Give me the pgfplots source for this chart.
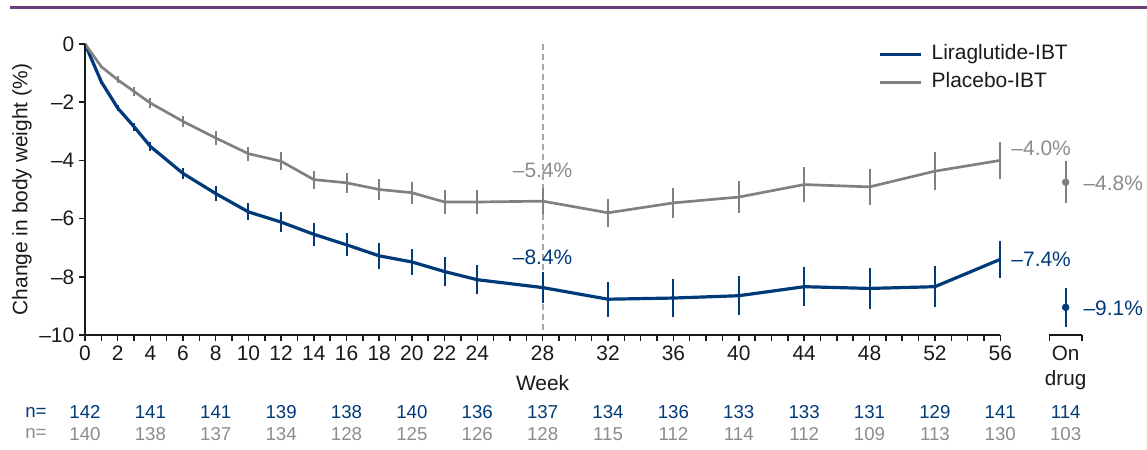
\documentclass[border=0pt]{standalone}
\usepackage{fontspec}
\setmainfont{Liberation Sans}
\usepackage{pgfplots}
\usepackage{pgfplotstable}
\pgfplotsset{compat=1.18}
\usetikzlibrary{calc}

\definecolor{liraBlue}{HTML}{003A78}
\definecolor{placGray}{HTML}{808080}
\definecolor{annGray}{HTML}{8C8C8C}
\definecolor{topPurple}{HTML}{6B3F7D}
\definecolor{dashGray}{HTML}{A6A6A6}
\definecolor{axisBlack}{HTML}{1A1A1A}

\newcommand{\bigfont}{\fontsize{15.7}{18.8}\selectfont}
\newcommand{\tickfont}{\fontsize{15.7}{18.8}\selectfont}
\newcommand{\nfont}{\fontsize{14}{16.8}\selectfont}

% week, mean change (%), error
\pgfplotstableread{
x  y      e
0  0      0
1  -1.30  0.06
2  -2.20  0.11
3  -2.84  0.14
4  -3.52  0.16
6  -4.45  0.20
8  -5.14  0.26
10 -5.77  0.29
12 -6.12  0.34
14 -6.54  0.39
16 -6.90  0.40
18 -7.28  0.45
20 -7.49  0.46
22 -7.82  0.50
24 -8.10  0.50
28 -8.37  0.54
32 -8.77  0.60
36 -8.73  0.64
40 -8.65  0.67
44 -8.34  0.67
48 -8.40  0.70
52 -8.34  0.70
56 -7.40  0.64
}\liratable

\pgfplotstableread{
x  y      e
0  0      0
1  -0.78  0.05
2  -1.23  0.12
3  -1.63  0.14
4  -2.03  0.17
6  -2.66  0.19
8  -3.23  0.23
10 -3.77  0.24
12 -4.03  0.31
14 -4.66  0.31
16 -4.77  0.34
18 -5.00  0.35
20 -5.11  0.38
22 -5.43  0.42
24 -5.43  0.42
28 -5.40  0.45
32 -5.80  0.49
36 -5.46  0.51
40 -5.26  0.54
44 -4.83  0.59
48 -4.91  0.62
52 -4.37  0.65
56 -4.00  0.64
}\plactable

% number of patients per visit
\pgfplotstableread{
x  lira plac
0  142  140
4  141  138
8  141  137
12 139  134
16 138  128
20 140  125
24 136  126
28 137  128
32 134  115
36 136  112
40 133  114
44 133  112
48 131  109
52 129  113
56 141  130
60 114  103
}\ntable

\begin{document}
\begin{tikzpicture}
\begin{axis}[
  scale only axis,
  width=747.75pt, height=218.25pt,
  xmin=0, xmax=61, ymin=-10, ymax=0,
  clip=false,
  axis lines*=left,
  axis line style={draw=none},
  xtick={0,2,4,6,8,10,12,14,16,18,20,22,24,28,32,36,40,44,48,52,56},
  minor xtick={0,1,...,56,59,61},
  extra x ticks={60},
  extra x tick labels={On\\drug},
  extra x tick style={tick style={draw=none},
    tick label style={align=center, font=\fontsize{15.5}{18.75}\selectfont}},
  ytick={-10,-8,-6,-4,-2,0},
  yticklabels={\textendash10,\textendash8,\textendash6,\textendash4,\textendash2,0},
  tick align=outside,
  major tick length=4.5pt, minor tick length=4.5pt,
  every tick/.style={line width=1.1pt, color=axisBlack},
  tick label style={font=\tickfont, text=axisBlack},
  /pgf/number format/assume math mode=true,
  xlabel={Week},
  every axis x label/.style={at={(rel axis cs:0.459,-0.165)}, anchor=center,
    font=\bigfont, text=axisBlack},
  ylabel={Change in body weight (\%)},
  every axis y label/.style={at={(rel axis cs:-0.0633,0.5)}, rotate=90,
    anchor=center, font=\bigfont, text=axisBlack},
  legend style={at={(axis cs:48.55,0.08)}, anchor=north west, draw=none,
    fill=none, inner sep=0pt, row sep=2pt, column sep=4.5pt,
    nodes={inner sep=2pt, text height=11.5pt, text depth=3.5pt,
      font=\bigfont, text=axisBlack}},
  legend cell align=left,
  legend image code/.code={\draw[#1] (0pt,0pt) -- (30.75pt,0pt);},
]
\coordinate (bbSW) at ($(rel axis cs:0,0)+(-63.75pt,-86.25pt)$);

% week 28 reference line
\addplot[dashGray, line width=1.4pt, dash pattern=on 4.5pt off 3pt, forget plot]
  coordinates {(28,0) (28,-10)};

\addplot[liraBlue, line width=2.4pt, line join=round, mark=none,
  error bars/.cd, y dir=both, y explicit, error mark=none,
  error bar style={line width=1.5pt, liraBlue}]
  table[x=x, y=y, y error=e] {\liratable};
\addlegendentry{Liraglutide-IBT}

\addplot[placGray, line width=2pt, line join=round, mark=none,
  error bars/.cd, y dir=both, y explicit, error mark=none,
  error bar style={line width=1.5pt, placGray}]
  table[x=x, y=y, y error=e] {\plactable};
\addlegendentry{Placebo-IBT}

% on-drug estimates
\addplot[liraBlue, only marks, mark=*, mark size=2.6pt, forget plot,
  error bars/.cd, y dir=both, y explicit, error mark=none,
  error bar style={line width=1.5pt, liraBlue}]
  coordinates {(60,-9.05) +- (0,0.68)};
\addplot[placGray, only marks, mark=*, mark size=2.6pt, forget plot,
  error bars/.cd, y dir=both, y explicit, error mark=none,
  error bar style={line width=1.5pt, placGray}]
  coordinates {(60,-4.75) +- (0,0.73)};

% n= rows
\addplot[draw=none, forget plot, nodes near coords, point meta=explicit symbolic,
  nodes near coords style={anchor=center, font=\nfont, text=liraBlue, inner sep=0pt}]
  table[x=x, y expr=-12.65, meta=lira] {\ntable};
\addplot[draw=none, forget plot, nodes near coords, point meta=explicit symbolic,
  nodes near coords style={anchor=center, font=\nfont, text=annGray, inner sep=0pt}]
  table[x=x, y expr=-13.40, meta=plac] {\ntable};
\node[anchor=east, font=\nfont, text=liraBlue, inner sep=0pt] at (axis cs:-2.33,-12.65) {n=};
\node[anchor=east, font=\nfont, text=annGray, inner sep=0pt] at (axis cs:-2.33,-13.40) {n=};

% value labels
\node[font=\bigfont, text=annGray] at (axis cs:28,-4.33) {\textendash5.4\%};
\node[font=\bigfont, text=liraBlue] at (axis cs:28,-7.32) {\textendash8.4\%};
\node[anchor=west, inner sep=0pt, font=\bigfont, text=annGray] at (axis cs:56.67,-3.57) {\textendash4.0\%};
\node[anchor=west, inner sep=0pt, font=\bigfont, text=annGray] at (axis cs:61.08,-4.78) {\textendash4.8\%};
\node[anchor=west, inner sep=0pt, font=\bigfont, text=liraBlue] at (axis cs:56.67,-7.39) {\textendash7.4\%};
\node[anchor=west, inner sep=0pt, font=\bigfont, text=liraBlue] at (axis cs:61.08,-9.07) {\textendash9.1\%};

% axis lines
\draw[line width=1.5pt, axisBlack] (axis cs:0,0) -- (axis cs:0,-10) -- (axis cs:56,-10);
\draw[line width=1.5pt, axisBlack] (axis cs:59,-10) -- (axis cs:61,-10);

% purple rule at top
\draw[line width=2.25pt, topPurple] (axis cs:-4.59,1.27) -- (axis cs:65.2,1.27);
\end{axis}
\pgfresetboundingbox
\path[use as bounding box] (bbSW) rectangle ($(bbSW)+(860.25pt,337.5pt)$);
\end{tikzpicture}
\end{document}
